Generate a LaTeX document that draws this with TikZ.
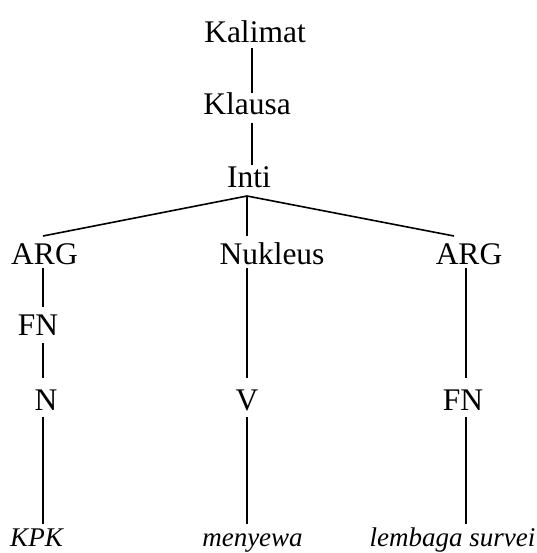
\documentclass[tikz,border=0pt]{standalone}
\usepackage{fontspec}
\setmainfont{Liberation Serif}
\begin{document}
\begin{tikzpicture}[x=1pt,y=-1pt,
  lbl/.style={inner sep=0pt,anchor=base,font=\fontsize{31.5}{36}\selectfont},
  leaf/.style={inner sep=0pt,anchor=base,font=\fontsize{27}{32}\selectfont\itshape},
  conn/.style={line width=1.6pt}]
\useasboundingbox (0,0) rectangle (536,553);
% nodes
\node[lbl] (kal) at (255,43) {Kalimat};
\node[lbl] (kla) at (247,115) {Klausa};
\node[lbl] (inti) at (249,188) {Inti};
\node[lbl] (arg1) at (44.5,264) {ARG};
\node[lbl] (nuk) at (272,264) {Nukleus};
\node[lbl] (arg2) at (469,264) {ARG};
\node[lbl] (fn1) at (38,335) {FN};
\node[lbl] (n) at (46,410) {N};
\node[lbl] (v) at (247,410) {V};
\node[lbl] (fn2) at (463,410) {FN};
\node[leaf] (kpk) at (36.5,546.5) {KPK};
\node[leaf] (men) at (252.5,546.5) {menyewa};
\node[leaf] (lem) at (452.5,546.5) {lembaga survei};
% connectors
\draw[conn] ([shift={(-3,5)}]kal.base) -- ([shift={(5,-22)}]kla.base);
\draw[conn] ([shift={(5,8)}]kla.base) -- ([shift={(3,-23)}]inti.base);
\draw[conn] ([shift={(-2,8)}]inti.base) -- ([shift={(-1.5,-28)}]arg1.base);
\draw[conn] ([shift={(-2,8)}]inti.base) -- ([shift={(-25,-28)}]nuk.base);
\draw[conn] ([shift={(-2,8)}]inti.base) -- ([shift={(-15,-28)}]arg2.base);
\draw[conn] ([shift={(-1.5,4)}]arg1.base) -- ([shift={(5,-28)}]fn1.base);
\draw[conn] ([shift={(5,8)}]fn1.base) -- ([shift={(-3,-32)}]n.base);
\draw[conn] ([shift={(-3,7)}]n.base) -- ([shift={(6.5,-22.5)}]kpk.base);
\draw[conn] ([shift={(-25,4)}]nuk.base) -- ([shift={(0,-32)}]v.base);
\draw[conn] ([shift={(0,7)}]v.base) -- ([shift={(-5.5,-22.5)}]men.base);
\draw[conn] ([shift={(-3,4)}]arg2.base) -- ([shift={(3,-32)}]fn2.base);
\draw[conn] ([shift={(3,7)}]fn2.base) -- ([shift={(13.5,-22.5)}]lem.base);
\end{tikzpicture}
\end{document}
